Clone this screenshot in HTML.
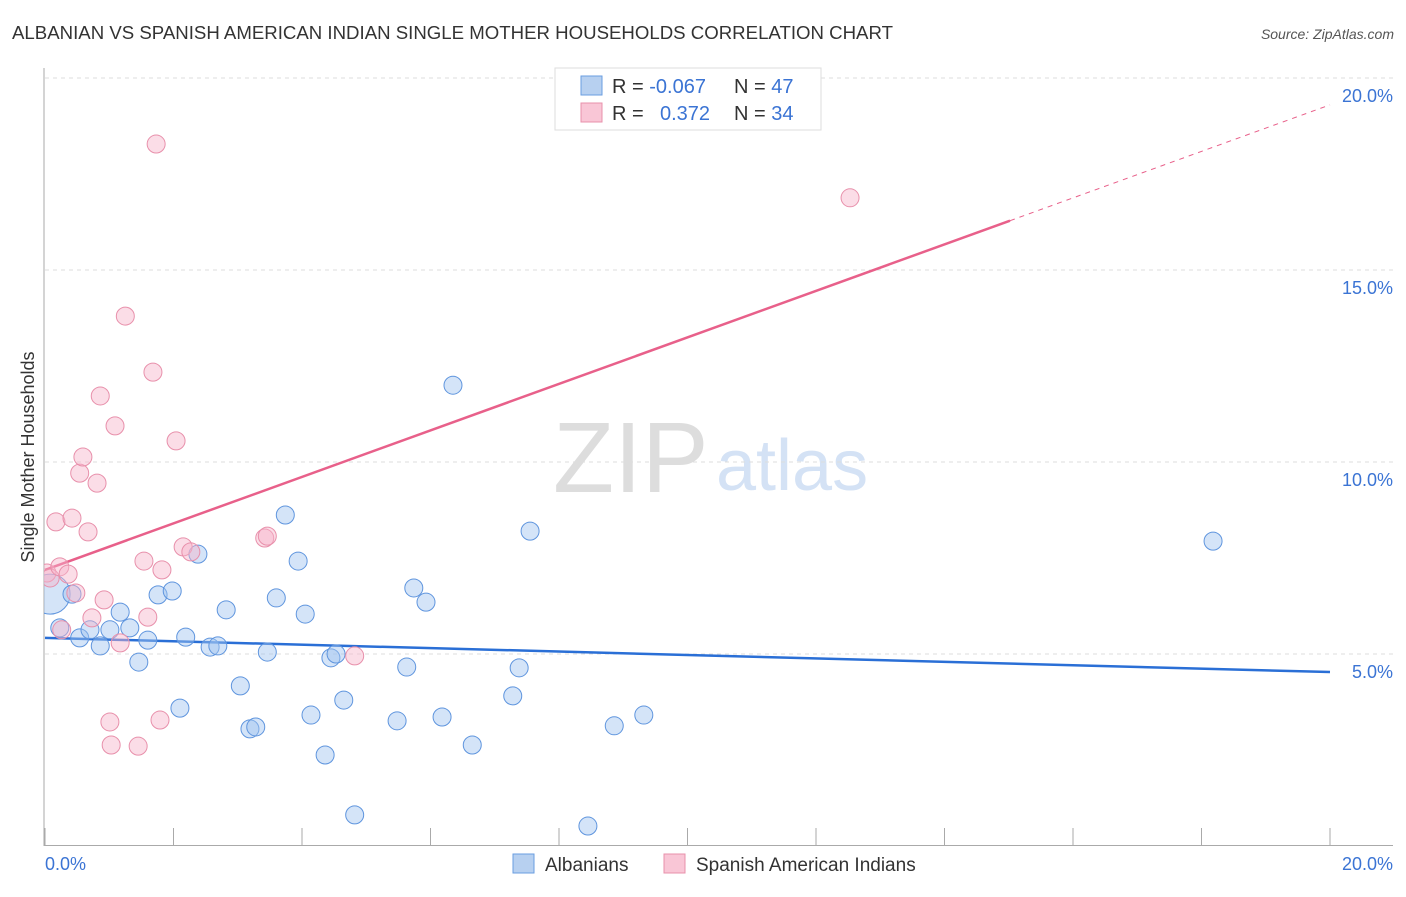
<!DOCTYPE html>
<html><head><meta charset="utf-8"><style>
body{margin:0;background:#fff;font-family:"Liberation Sans",sans-serif}
svg text{font-family:"Liberation Sans",sans-serif}
</style></head><body>
<svg width="1406" height="892">
<defs><clipPath id="plot"><rect x="44" y="60" width="1360" height="786"/></clipPath></defs>
<text x="12" y="39" font-size="18" fill="#333" textLength="881" lengthAdjust="spacingAndGlyphs">ALBANIAN VS SPANISH AMERICAN INDIAN SINGLE MOTHER HOUSEHOLDS CORRELATION CHART</text>
<text x="1394" y="39" font-size="14" fill="#555" font-style="italic" text-anchor="end">Source: ZipAtlas.com</text>
<text x="553" y="492" font-size="100" fill="#ddd" font-family="Liberation Serif">ZIP</text>
<text x="716" y="490" font-size="72" fill="#d4e2f5">atlas</text>
<g id="grid"></g><g id="axes"></g><g id="lines"></g><g id="pts" clip-path="url(#plot)"></g>
<text transform="translate(34,457) rotate(-90)" font-size="18" fill="#333" text-anchor="middle">Single Mother Households</text>
<text x="45" y="870" font-size="18" fill="#3b74d4">0.0%</text>
<text x="1393" y="870" font-size="18" fill="#3b74d4" text-anchor="end">20.0%</text>
<g>
<rect x="555" y="68" width="266" height="62" fill="#fff" stroke="#ddd"/>
<rect x="581" y="76" width="21" height="19" fill="#b7d0f0" stroke="#6a9ee0"/>
<rect x="581" y="103" width="21" height="19" fill="#f9c6d6" stroke="#e890ab"/>
<text x="612" y="93" font-size="20" fill="#333">R = <tspan fill="#3b74d4">-0.067</tspan></text>
<text x="734" y="93" font-size="20" fill="#333">N = <tspan fill="#3b74d4">47</tspan></text>
<text x="612" y="120" font-size="20" fill="#333">R = <tspan fill="#3b74d4" x="660">0.372</tspan></text>
<text x="734" y="120" font-size="20" fill="#333">N = <tspan fill="#3b74d4">34</tspan></text>
</g>
<g>
<rect x="513" y="854" width="21" height="19" fill="#b7d0f0" stroke="#6a9ee0"/>
<text x="545" y="871" font-size="19" fill="#333">Albanians</text>
<rect x="664" y="854" width="21" height="19" fill="#f9c6d6" stroke="#e890ab"/>
<text x="696" y="871" font-size="19" fill="#333">Spanish American Indians</text>
</g>
</svg>
<script>
const yTicks=[5,10,15,20];
const yTickLabels=["5.0%","10.0%","15.0%","20.0%"];
const xTicks=[0,2,4,6,8,10,12,14,16,18,20];
const blueX=[0.08,0.23,0.42,0.54,0.70,0.86,1.01,1.17,1.32,1.46,1.60,1.76,1.98,2.10,2.19,2.38,2.57,2.69,2.82,3.04,3.19,3.28,3.46,3.60,3.74,3.94,4.05,4.14,4.36,4.45,4.53,4.65,4.82,5.48,5.63,5.74,5.93,6.18,6.35,6.65,7.28,7.38,7.55,8.45,8.86,9.32,18.18];
const blueY=[6.56,5.68,6.56,5.42,5.63,5.21,5.63,6.09,5.68,4.79,5.36,6.54,6.64,3.59,5.44,7.60,5.18,5.21,6.15,4.17,3.05,3.10,5.05,6.46,8.62,7.42,6.04,3.41,2.37,4.90,5.00,3.80,0.81,3.26,4.66,6.72,6.35,3.36,12.00,2.63,3.91,4.64,8.20,0.52,3.13,3.41,7.94];
const pinkX=[0.03,0.08,0.17,0.23,0.26,0.36,0.42,0.48,0.54,0.59,0.67,0.73,0.81,0.86,0.92,1.01,1.03,1.09,1.17,1.25,1.45,1.54,1.60,1.68,1.73,1.79,1.82,2.04,2.15,2.27,3.42,3.46,4.82,12.53];
const pinkY=[7.11,6.98,8.44,7.27,5.63,7.08,8.54,6.59,9.71,10.13,8.18,5.94,9.45,11.72,6.41,3.23,2.63,10.94,5.29,13.80,2.60,7.42,5.96,12.34,18.28,3.28,7.19,10.55,7.79,7.66,8.02,8.07,4.95,16.88];
const blueTrend=[5.42,4.53];
const pinkTrend=[7.19,19.3];
const pinkSolidEnd=15.02;
const NS="http://www.w3.org/2000/svg";
const X=v=>45+v/20*1285, Y=v=>846-v/20*768;
function mk(p,t,a){const e=document.createElementNS(NS,t);for(const k in a)e.setAttribute(k,a[k]);p.appendChild(e);return e;}
const g=document.getElementById('grid'),ax=document.getElementById('axes'),ln=document.getElementById('lines'),pts=document.getElementById('pts');
yTicks.forEach((t,i)=>{
 const l=mk(g,'line',{x1:45,x2:1393,y1:Y(t),y2:Y(t),stroke:'#ddd','stroke-dasharray':'4,4'});
 
 
 const tx=mk(g,'text',{x:1393,y:Y(t)+24,'font-size':18,fill:'#3b74d4','text-anchor':'end'});
 tx.textContent=yTickLabels[i];
 
 
});
mk(ax,'line',{x1:44,x2:44,y1:68,y2:846,stroke:'#aaa'});
mk(ax,'line',{x1:44,x2:1393,y1:845.5,y2:845.5,stroke:'#aaa'});
xTicks.forEach(t=>{
 const l=mk(ax,'line',{x1:X(t),x2:X(t),y1:828,y2:846,stroke:'#aaa'});
 
 
});
const tb=mk(ln,'line',{x1:X(0),y1:Y(blueTrend[0]),x2:X(20),y2:Y(blueTrend[1]),stroke:'#2a6fd6','stroke-width':2.5});


const py=x=>pinkTrend[0]+(pinkTrend[1]-pinkTrend[0])*x/20;
const tp=mk(ln,'line',{x1:X(0),y1:Y(py(0)),x2:X(pinkSolidEnd),y2:Y(py(pinkSolidEnd)),stroke:'#e8608a','stroke-width':2.5});


const td=mk(ln,'line',{x1:X(pinkSolidEnd),y1:Y(py(pinkSolidEnd)),x2:X(20),y2:Y(py(20)),stroke:'#e8608a','stroke-width':1,'stroke-dasharray':'5,5'});


blueX.forEach((x,i)=>{
 const c=mk(pts,'circle',{cx:X(x),cy:Y(blueY[i]),r:i===0?20:9,fill:'rgba(160,195,240,0.45)',stroke:'#5f95de','stroke-width':1});
 
 
});
pinkX.forEach((x,i)=>{
 const c=mk(pts,'circle',{cx:X(x),cy:Y(pinkY[i]),r:9,fill:'rgba(246,180,202,0.45)',stroke:'#e890ab','stroke-width':1});
 
 
});
</script>
</body></html>
